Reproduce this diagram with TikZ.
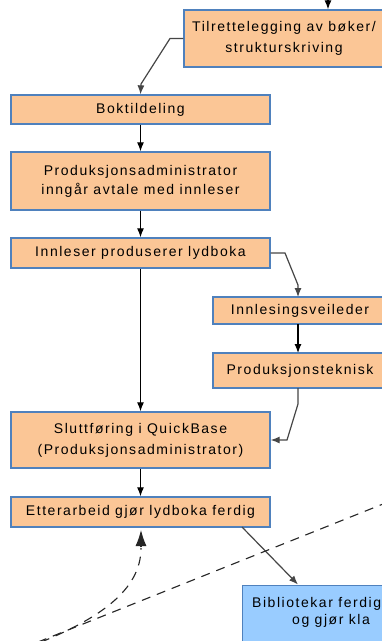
\documentclass[tikz,border=0pt]{standalone}
\usepackage{fontspec}
\setmainfont{Liberation Sans}[LetterSpace=11]
\usetikzlibrary{arrows.meta}

\definecolor{boxfill}{RGB}{251,198,150}
\definecolor{boxedge}{RGB}{79,129,189}
\definecolor{libfill}{RGB}{153,204,255}
\definecolor{linkgray}{RGB}{70,70,70}

\tikzset{
  stepbox/.style={draw=boxedge, line width=1.3pt, fill=boxfill, rectangle,
    inner sep=0pt, align=center, font=\fontsize{14}{21}\selectfont},
  libbox/.style={stepbox, fill=libfill},
  flow/.style={line width=1.2pt, -{Latex[length=9pt,width=7pt]}},
  bent/.style={flow, draw=linkgray},
  dashline/.style={line width=1.1pt, dash pattern=on 9pt off 7pt, draw=black!85},
  boxtext/.style={inner sep=0pt, font=\fontsize{14}{21}\selectfont}
}

\begin{document}
\begin{tikzpicture}[x=1pt, y=-1pt]
\useasboundingbox (0,0) rectangle (382,641);
\clip (0,0) rectangle (382,641);
\fill[white] (0,0) rectangle (382,641);

% process steps
\node[stepbox, minimum width=200pt, minimum height=57pt] (b1) at (284,38.5)
  {Tilrettelegging av bøker/\\strukturskriving};
\node[stepbox, minimum width=259pt, minimum height=29pt] (b2) at (140.5,109.5)
  {Boktildeling};
\node[stepbox, minimum width=259pt, minimum height=58pt,
      font=\fontsize{14}{19}\selectfont] (b3) at (140.5,181)
  {Produksjonsadministrator\\inngår avtale med innleser};
\node[stepbox, minimum width=259pt, minimum height=30pt] (b4) at (140.5,253)
  {Innleser produserer lydboka};
\node[stepbox, minimum width=174pt, minimum height=27pt] (b5) at (300,310.5)
  {Innlesingsveileder};
\node[stepbox, minimum width=174pt, minimum height=35pt] (b6) at (300,370.5)
  {Produksjonsteknisk};
\node[stepbox, minimum width=259pt, minimum height=56pt] (b7) at (140.5,440)
  {Sluttføring i QuickBase\\(Produksjonsadministrator)};
\node[stepbox, minimum width=259pt, minimum height=30pt] (b8) at (140.5,512)
  {Etterarbeid gjør lydboka ferdig};
\node[libbox, anchor=north west, minimum width=200pt, minimum height=80pt] (b9)
  at (242,585) {};
\node[boxtext, anchor=base west] (b9a) at (252,607) {Bibliotekar ferdig};
\node[boxtext, anchor=base west] (b9b) at (292,624) {og gjør kla};

% bend points
\coordinate (in1) at (328,-4);
\coordinate (k1) at (170,38.5);
\coordinate (k2) at (141,84);
\coordinate (v1) at (285,253);
\coordinate (v2) at (298,285);
\coordinate (v3) at (298,297);
\coordinate (v4) at (298,324);
\coordinate (v5) at (298,353);
\coordinate (t1) at (298,388);
\coordinate (t2) at (298,404);
\coordinate (t3) at (287,440);
\coordinate (e1) at (242,527);
\coordinate (e2) at (298,584.5);
\coordinate (r1) at (141,530);
\coordinate (d1) at (388,502);
\coordinate (d2) at (28,646);
\coordinate (c0) at (26,648);

% connectors
\draw[flow] (in1) -- (b1.north -| in1);
\draw[bent] (b1.west) -- (k1) -- (k2) -- (b2.north);
\draw[flow] (b2.south) -- (b3.north);
\draw[flow] (b3.south) -- (b4.north);
\draw[flow] (b4.south) -- (b7.north);
\draw[bent] (b4.east) -- (v1) -- (v2) -- (v3);
\draw[flow] (v4) -- (v5);
\draw[bent] (t1) -- (t2) -- (t3) -- (b7.east);
\draw[flow] (b7.south) -- (b8.north);
\draw[bent] (e1) -- (e2);

% dashed lines
\draw[dashline] (d1) -- (d2);
\draw[dashline] (c0) .. controls (100,620) and (141,590) .. (141,548);
\draw[line width=1.1pt, draw=black!85, -{Latex[length=16pt,width=11pt]}]
  (141,547) -- (r1);
\end{tikzpicture}
\end{document}
